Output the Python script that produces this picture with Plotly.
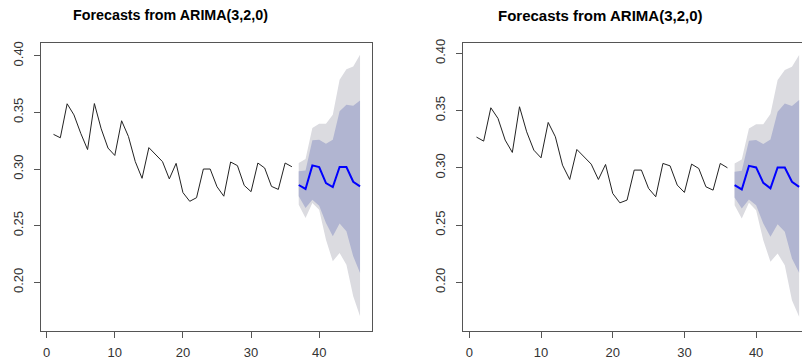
import plotly.graph_objects as go

W, H = 802, 362

# ---------------- data ----------------
t_hist = list(range(1, 37))
t_fc = list(range(37, 47))

obs_left = [0.3306, 0.3276, 0.3576, 0.3478, 0.3315, 0.3172, 0.3578, 0.3355, 0.3185, 0.3120,
            0.3426, 0.3287, 0.3066, 0.2918, 0.3189, 0.3124, 0.3065, 0.2913, 0.3050, 0.2792,
            0.2715, 0.2747, 0.3000, 0.3000, 0.2844, 0.2760, 0.3062, 0.3030, 0.2855, 0.2800,
            0.3053, 0.3009, 0.2847, 0.2820, 0.3053, 0.3020]
fc_left = [0.2859, 0.2824, 0.3032, 0.3018, 0.2876, 0.2841, 0.3018, 0.3018, 0.2888, 0.2847]
hi95_left = [0.3053, 0.3088, 0.3362, 0.3400, 0.3400, 0.3480, 0.3788, 0.3882, 0.3906, 0.4009]
hi80_left = [0.2980, 0.2988, 0.3253, 0.3259, 0.3224, 0.3259, 0.3509, 0.3568, 0.3559, 0.3606]
lo80_left = [0.2759, 0.2656, 0.2729, 0.2676, 0.2524, 0.2406, 0.2518, 0.2450, 0.2229, 0.2082]
lo95_left = [0.2685, 0.2568, 0.2700, 0.2641, 0.2376, 0.2185, 0.2259, 0.2156, 0.1876, 0.1700]

obs_right = [0.3268, 0.3233, 0.3524, 0.3431, 0.3242, 0.3134, 0.3533, 0.3314, 0.3154, 0.3087,
             0.3396, 0.3271, 0.3023, 0.2898, 0.3160, 0.3096, 0.3032, 0.2898, 0.3029, 0.2776,
             0.2694, 0.2718, 0.2980, 0.2980, 0.2820, 0.2747, 0.3038, 0.3017, 0.2849, 0.2785,
             0.3032, 0.2994, 0.2834, 0.2805, 0.3038, 0.3000]
fc_right = [0.2849, 0.2811, 0.3017, 0.3003, 0.2869, 0.2820, 0.3003, 0.3003, 0.2878, 0.2834]
hi95_right = [0.3038, 0.3073, 0.3344, 0.3381, 0.3381, 0.3469, 0.3766, 0.3853, 0.3882, 0.3984]
hi80_right = [0.2965, 0.2974, 0.3236, 0.3242, 0.3207, 0.3247, 0.3489, 0.3562, 0.3539, 0.3591]
lo80_right = [0.2741, 0.2645, 0.2723, 0.2674, 0.2514, 0.2397, 0.2508, 0.2441, 0.2208, 0.2083]
lo95_right = [0.2674, 0.2558, 0.2694, 0.2630, 0.2368, 0.2179, 0.2252, 0.2150, 0.1844, 0.1699]

x_ticks = [0, 10, 20, 30, 40]
y_ticks = [0.20, 0.25, 0.30, 0.35, 0.40]
title_text = "Forecasts from ARIMA(3,2,0)"

# ---------------- style ----------------
LIGHT = "#DBDBE0"
DARK = "#B1B5D1"
BLUE = "#0000FF"
AXC = "#555555"
TICKFONT = dict(family="Liberation Sans Narrow, Arial Narrow, Liberation Sans, Arial", size=13, color="#333333")

fig = go.Figure()


def add_panel(xa, ya, obs, fc, hi95, hi80, lo80, lo95):
    fig.add_trace(go.Scatter(x=t_fc + t_fc[::-1], y=hi95 + lo95[::-1], fill="toself",
                             fillcolor=LIGHT, line=dict(width=0), mode="lines",
                             xaxis=xa, yaxis=ya, hoverinfo="skip", showlegend=False))
    fig.add_trace(go.Scatter(x=t_fc + t_fc[::-1], y=hi80 + lo80[::-1], fill="toself",
                             fillcolor=DARK, line=dict(width=0), mode="lines",
                             xaxis=xa, yaxis=ya, hoverinfo="skip", showlegend=False))
    fig.add_trace(go.Scatter(x=t_hist, y=obs, mode="lines", line=dict(color="#222222", width=1),
                             xaxis=xa, yaxis=ya, showlegend=False))
    fig.add_trace(go.Scatter(x=t_fc, y=fc, mode="lines", line=dict(color=BLUE, width=2),
                             xaxis=xa, yaxis=ya, showlegend=False))


add_panel("x", "y", obs_left, fc_left, hi95_left, hi80_left, lo80_left, lo95_left)
add_panel("x2", "y2", obs_right, fc_right, hi95_right, hi80_right, lo80_right, lo95_right)

box_top, box_bot = 43.3, 331.0
ydom = [1 - box_bot / H, 1 - box_top / H]

common_x = dict(showgrid=False, zeroline=False, showline=True, linecolor=AXC, linewidth=1,
                ticks="outside", ticklen=6, tickcolor=AXC, tickwidth=1, automargin=False,
                tickvals=x_ticks, tickfont=TICKFONT, fixedrange=True, ticklabelstandoff=3)
common_y = dict(showgrid=False, zeroline=False, showline=True, linecolor=AXC, linewidth=1,
                ticks="outside", ticklen=6, tickcolor=AXC, tickwidth=1, automargin=False,
                tickvals=y_ticks, tickformat=".2f", tickangle=-90, tickfont=TICKFONT,
                fixedrange=True, ticklabelstandoff=6)

fig.update_layout(
    width=W, height=H,
    margin=dict(l=0, r=0, t=0, b=0, autoexpand=False),
    paper_bgcolor="white", plot_bgcolor="white",
    xaxis=dict(common_x, domain=[40.7 / W, 372.3 / W], range=[-0.88, 47.8], mirror=True, anchor="y"),
    yaxis=dict(common_y, domain=ydom, range=[0.157, 0.411], mirror=True, anchor="x"),
    xaxis2=dict(common_x, domain=[463.3 / W, 1.0], range=[-0.84, 46.4], mirror=True, anchor="y2"),
    yaxis2=dict(common_y, domain=ydom, range=[0.1575, 0.4087], mirror=False, anchor="x2"),
    annotations=[
        dict(text="<b>" + title_text + "</b>", x=170.5 / W, y=1 - 15.3 / H, xref="paper", yref="paper",
             xanchor="center", yanchor="middle", showarrow=False,
             font=dict(family="Liberation Sans, Arial", size=14.3, color="black")),
        dict(text="<b>" + title_text + "</b>", x=600.5 / W, y=1 - 15.3 / H, xref="paper", yref="paper",
             xanchor="center", yanchor="middle", showarrow=False,
             font=dict(family="Liberation Sans, Arial", size=15, color="black")),
    ],
)

fig.write_html("out.html", config={"displayModeBar": False},
               post_script="document.body.style.margin='0px';")
